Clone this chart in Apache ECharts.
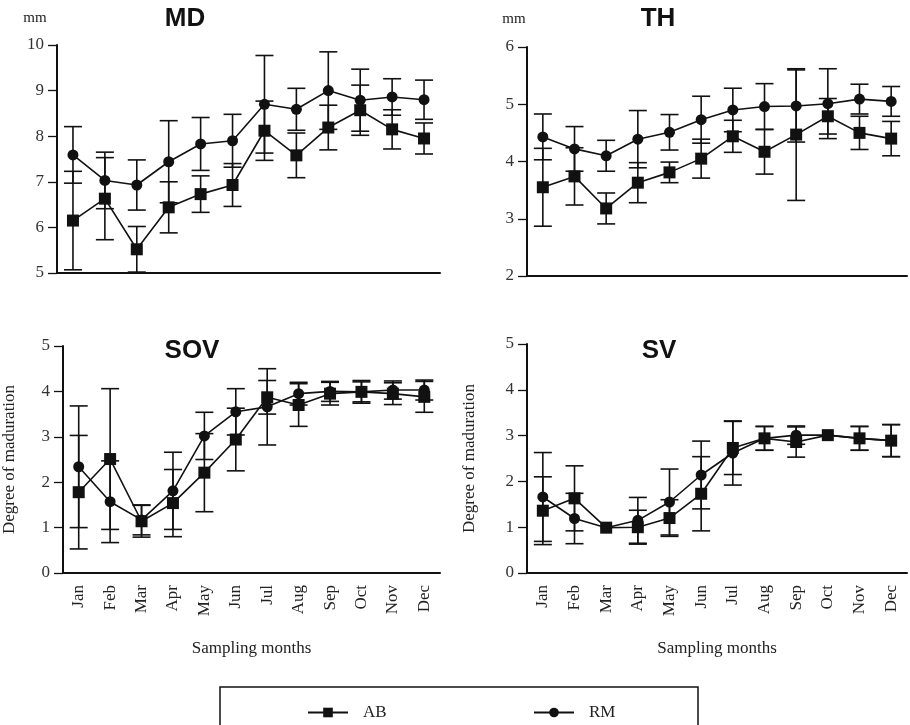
<!DOCTYPE html>
<html>
<head>
<meta charset="utf-8">
<script src="https://cdn.jsdelivr.net/npm/echarts@6/dist/echarts.min.js"></script>
<style>html,body{margin:0;padding:0;background:#fff;}#chart{width:910px;height:725px;}</style>
</head>
<body>
<div id="chart"></div>
<script>
const months = ['Jan','Feb','Mar','Apr','May','Jun','Jul','Aug','Sep','Oct','Nov','Dec'];

const MD_AB     = [6.15, 6.63, 5.52, 6.44, 6.73, 6.93, 8.12, 7.58, 8.19, 8.57, 8.15, 7.95];
const MD_AB_err = [1.08, 0.90, 0.50, 0.56, 0.40, 0.47, 0.65, 0.49, 0.49, 0.55, 0.43, 0.34];
const MD_RM     = [7.59, 7.03, 6.93, 7.44, 7.83, 7.90, 8.70, 8.59, 9.00, 8.79, 8.86, 8.80];
const MD_RM_err = [0.62, 0.62, 0.55, 0.90, 0.58, 0.58, 1.07, 0.46, 0.85, 0.68, 0.40, 0.43];

const TH_AB     = [3.55, 3.74, 3.18, 3.63, 3.81, 4.05, 4.44, 4.17, 4.47, 4.79, 4.50, 4.40];
const TH_AB_err = [0.68, 0.50, 0.27, 0.35, 0.18, 0.34, 0.28, 0.39, 1.15, 0.31, 0.29, 0.30];
const TH_RM     = [4.43, 4.22, 4.10, 4.39, 4.51, 4.73, 4.90, 4.96, 4.97, 5.01, 5.09, 5.05];
const TH_RM_err = [0.40, 0.39, 0.27, 0.50, 0.31, 0.41, 0.38, 0.40, 0.63, 0.61, 0.26, 0.26];

const SOV_AB     = [1.78, 2.51, 1.14, 1.54, 2.21, 2.94, 3.87, 3.70, 3.95, 3.99, 3.95, 3.88];
const SOV_AB_err = [1.25, 1.55, 0.35, 0.74, 0.86, 0.69, 0.37, 0.47, 0.25, 0.25, 0.24, 0.34];
const SOV_RM     = [2.34, 1.57, 1.17, 1.81, 3.02, 3.55, 3.66, 3.95, 4.00, 3.99, 4.03, 4.03];
const SOV_RM_err = [1.34, 0.90, 0.33, 0.85, 0.52, 0.51, 0.84, 0.25, 0.22, 0.22, 0.20, 0.22];

const SV_AB     = [1.36, 1.63, 0.99, 1.00, 1.20, 1.73, 2.73, 2.94, 2.86, 3.01, 2.94, 2.89];
const SV_AB_err = [0.74, 0.71, 0.00, 0.37, 0.40, 0.81, 0.58, 0.26, 0.33, 0.00, 0.26, 0.35];
const SV_RM     = [1.66, 1.19, 0.99, 1.15, 1.55, 2.14, 2.62, 2.94, 3.01, 3.01, 2.94, 2.89];
const SV_RM_err = [0.97, 0.55, 0.00, 0.50, 0.72, 0.74, 0.70, 0.26, 0.20, 0.00, 0.26, 0.35];

const panels = [
  {title:'MD',  ab:MD_AB,  abE:MD_AB_err,  rm:MD_RM,  rmE:MD_RM_err,  min:5, max:10, grid:{left:57, top:45, width:383, height:228}, labels:false, unit:true},
  {title:'TH',  ab:TH_AB,  abE:TH_AB_err,  rm:TH_RM,  rmE:TH_RM_err,  min:2, max:6,  grid:{left:527, top:47, width:380, height:229}, labels:false, unit:true},
  {title:'SOV', ab:SOV_AB, abE:SOV_AB_err, rm:SOV_RM, rmE:SOV_RM_err, min:0, max:5,  grid:{left:58, top:346, width:382, height:227}, labels:true},
  {title:'SV',  ab:SV_AB,  abE:SV_AB_err,  rm:SV_RM,  rmE:SV_RM_err,  min:0, max:5,  grid:{left:527, top:344, width:380, height:229}, labels:true}
];

const SERIF = '"Liberation Serif", "DejaVu Serif", serif';
const INK = '#111';

const grids = [], xAxes = [], yAxes = [], series = [];

function errRender(params, api) {
  const x = api.value(0), m = api.value(1), e = api.value(2);
  if (!e) return null;
  const hi = api.coord([x, m + e]);
  const lo = api.coord([x, m - e]);
  const hw = 9;
  const st = {stroke: INK, lineWidth: 1.6};
  return {type:'group', children:[
    {type:'line', shape:{x1:hi[0], y1:hi[1], x2:lo[0], y2:lo[1]}, style:st},
    {type:'line', shape:{x1:hi[0]-hw, y1:hi[1], x2:hi[0]+hw, y2:hi[1]}, style:st},
    {type:'line', shape:{x1:lo[0]-hw, y1:lo[1], x2:lo[0]+hw, y2:lo[1]}, style:st}
  ]};
}

panels.forEach((p, i) => {
  grids.push(p.grid);
  xAxes.push({
    type:'category', gridIndex:i, data:months, boundaryGap:true,
    axisLine:{lineStyle:{color:INK, width:2}},
    axisTick:{alignWithLabel:true, length:12, lineStyle:{color:INK, width:1.3}},
    axisLabel:{show:p.labels, rotate:90, margin:12, fontFamily:SERIF, fontSize:17, color:'#222'},
    name: p.labels ? 'Sampling months' : '',
    nameLocation:'middle', nameGap:67,
    nameTextStyle:{fontFamily:SERIF, fontSize:17, color:'#222'}
  });
  yAxes.push({
    type:'value', gridIndex:i, min:p.min, max:p.max, interval:1,
    splitLine:{show:false},
    axisLine:{show:true, lineStyle:{color:INK, width:2}},
    axisTick:{show:true, length:9, lineStyle:{color:INK, width:1.3}},
    axisLabel:{margin:13, fontFamily:SERIF, fontSize:17, color:'#333'},
    name: p.labels ? 'Degree of maduration' : '',
    nameLocation:'middle', nameGap: i === 2 ? 45 : 49, nameRotate:90,
    nameTextStyle:{fontFamily:SERIF, fontSize:17, color:'#222'}
  });
  series.push({
    type:'custom', name:'AB err', xAxisIndex:i, yAxisIndex:i, z:2, silent:true,
    renderItem:errRender, clip:false,
    data: p.ab.map((v, k) => [k, v, p.abE[k]])
  });
  series.push({
    type:'custom', name:'RM err', xAxisIndex:i, yAxisIndex:i, z:2, silent:true,
    renderItem:errRender, clip:false,
    data: p.rm.map((v, k) => [k, v, p.rmE[k]])
  });
  series.push({
    type:'line', name:'RM', xAxisIndex:i, yAxisIndex:i, z:3, data:p.rm,
    symbol:'circle', symbolSize:11, showAllSymbol:true,
    lineStyle:{color:INK, width:1.6}, itemStyle:{color:INK}, animation:false
  });
  series.push({
    type:'line', name:'AB', xAxisIndex:i, yAxisIndex:i, z:4, data:p.ab,
    symbol:'rect', symbolSize:12, showAllSymbol:true,
    lineStyle:{color:INK, width:1.6}, itemStyle:{color:INK}, animation:false
  });
});

const titleCenters = [[185,19],[658,19],[192,351],[659,351]];
const graphics = [];
panels.forEach((p, i) => {
  graphics.push({type:'text', x:titleCenters[i][0], y:titleCenters[i][1],
    style:{text:p.title, font:'bold 26px "Liberation Sans", Arial, sans-serif', fill:INK, textAlign:'center', textVerticalAlign:'middle'}});
});
graphics.push({type:'text', x:35, y:18, style:{text:'mm', font:'15px ' + SERIF, fill:'#222', textAlign:'center', textVerticalAlign:'middle'}});
graphics.push({type:'text', x:514, y:19, style:{text:'mm', font:'15px ' + SERIF, fill:'#222', textAlign:'center', textVerticalAlign:'middle'}});
graphics.push({type:'rect', shape:{x:220, y:687, width:478, height:60}, style:{fill:'none', stroke:INK, lineWidth:1.5}});

const chart = echarts.init(document.getElementById('chart'), null, {renderer:'canvas'});
chart.setOption({
  animation:false,
  backgroundColor:'#fff',
  grid:grids, xAxis:xAxes, yAxis:yAxes, series:series,
  legend:[
    {data:['AB'], left:302, top:699, itemWidth:40, itemHeight:12, icon:undefined,
     textStyle:{fontFamily:SERIF, fontSize:17, color:'#222', padding:[0,0,0,10]}, selectedMode:false},
    {data:['RM'], left:528, top:699, itemWidth:40, itemHeight:12,
     textStyle:{fontFamily:SERIF, fontSize:17, color:'#222', padding:[0,0,0,10]}, selectedMode:false}
  ],
  graphic:graphics
});
</script>
</body>
</html>
